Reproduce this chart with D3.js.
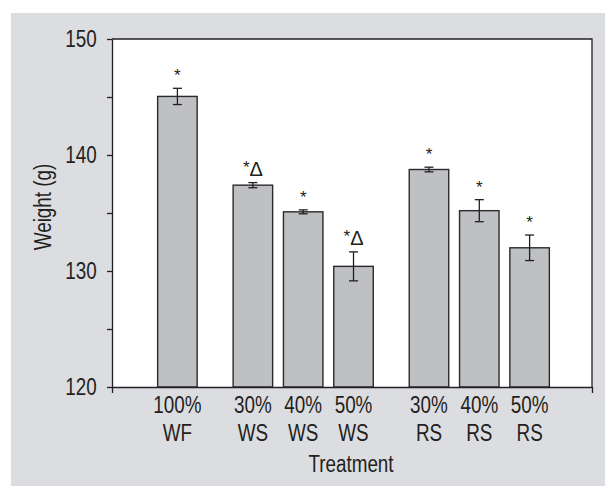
<!DOCTYPE html>
<html>
<head>
<meta charset="utf-8">
<script src="https://cdn.jsdelivr.net/npm/d3@7"></script>
<style>
  body { margin: 0; background: #fff; }
  svg text { font-family: "Liberation Sans", Arial, sans-serif; fill: #231f20; }
</style>
</head>
<body>
<svg id="chart" width="605" height="486"></svg>
<script>
// values
const percents = ['100%', '30%', '40%', '50%', '30%', '40%', '50%'];
const treatments = ['WF', 'WS', 'WS', 'WS', 'RS', 'RS', 'RS'];
const weights = [145.05, 137.4, 135.1, 130.4, 138.75, 135.2, 132.0];
const errors = [0.7, 0.22, 0.17, 1.25, 0.2, 0.95, 1.1];
const marks = ['*', '*\u0394', '*', '*\u0394', '*', '*', '*'];
const yTicks = [120, 125, 130, 135, 140, 145, 150];

const ink = '#231f20';
const narrow = 0.82; // the source font is a condensed sans, squeeze Liberation Sans to match
const svg = d3.select('#chart');

// grey panel behind everything
svg.append('rect')
  .attr('x', 11).attr('y', 13)
  .attr('width', 594).attr('height', 473)
  .attr('fill', '#dcdde0');

const plotL = 112, plotR = 592, plotT = 39, plotB = 387;

svg.append('rect')
  .attr('x', plotL).attr('y', plotT)
  .attr('width', plotR - plotL).attr('height', plotB - plotT)
  .attr('fill', '#fff');

// slot index: one step per bar, half a step extra between treatment groups
let group = 0;
const slots = treatments.map((t, i) => {
  if (i > 0 && t !== treatments[i - 1]) group++;
  return i + group * 0.5;
});

const x = d3.scaleLinear().domain([-1.3, 8.24]).range([plotL, plotR]);
const y = d3.scaleLinear().domain([120, 150]).range([plotB, plotT]);
const barW = x(0.785) - x(0);

const rows = weights.map((w, i) => ({
  w, err: errors[i], mark: marks[i], slot: slots[i], pct: percents[i], tr: treatments[i]
}));

// bars
svg.append('g')
  .selectAll('rect')
  .data(rows)
  .join('rect')
  .attr('x', d => x(d.slot) - barW / 2)
  .attr('y', d => y(d.w))
  .attr('width', barW)
  .attr('height', d => y(120) - y(d.w))
  .attr('fill', '#bec0c3')
  .attr('stroke', '#2a2a2a')
  .attr('stroke-width', 1.4);

// error bars
const eb = svg.append('g')
  .attr('stroke', ink)
  .attr('stroke-width', 1.3);

eb.selectAll('line.v')
  .data(rows)
  .join('line')
  .attr('class', 'v')
  .attr('x1', d => x(d.slot)).attr('x2', d => x(d.slot))
  .attr('y1', d => y(d.w - d.err)).attr('y2', d => y(d.w + d.err));

eb.selectAll('line.hi')
  .data(rows)
  .join('line')
  .attr('class', 'hi')
  .attr('x1', d => x(d.slot) - 4.5).attr('x2', d => x(d.slot) + 4.5)
  .attr('y1', d => y(d.w + d.err)).attr('y2', d => y(d.w + d.err));

eb.selectAll('line.lo')
  .data(rows)
  .join('line')
  .attr('class', 'lo')
  .attr('x1', d => x(d.slot) - 4.5).attr('x2', d => x(d.slot) + 4.5)
  .attr('y1', d => y(d.w - d.err)).attr('y2', d => y(d.w - d.err));

// significance marks
const markText = svg.append('g')
  .selectAll('text')
  .data(rows)
  .join('text')
  .attr('x', d => x(d.slot))
  .attr('y', d => y(d.w + d.err) - 7)
  .attr('text-anchor', 'middle');

markText.append('tspan')
  .attr('font-size', 17)
  .attr('dy', d => d.mark.length > 1 ? -3 : 0)
  .text('*');

markText.filter(d => d.mark.length > 1)
  .append('tspan')
  .attr('font-size', 20)
  .attr('dy', 3)
  .text(d => d.mark.slice(1));

// axes
const yAxis = svg.append('g')
  .attr('transform', `translate(${plotL},0)`)
  .call(d3.axisLeft(y).tickValues(yTicks).tickSize(5).tickSizeOuter(0).tickPadding(13.7)
    .tickFormat(d => d % 10 === 0 ? d : ''));
yAxis.selectAll('path, line').attr('stroke', ink).attr('stroke-width', 1.3);
yAxis.selectAll('text')
  .attr('font-size', 23)
  .attr('fill', ink)
  .attr('font-family', '"Liberation Sans", Arial, sans-serif')
  .attr('transform', `scale(${narrow},1)`);

const xAxis = svg.append('g')
  .attr('transform', `translate(0,${plotB})`)
  .call(d3.axisBottom(x).tickValues([]).tickSizeOuter(6));
xAxis.selectAll('path').attr('stroke', ink).attr('stroke-width', 1.3);

// top and right frame
svg.append('path')
  .attr('d', d3.line()([[plotL, plotT], [plotR, plotT], [plotR, plotB]]))
  .attr('fill', 'none')
  .attr('stroke', ink)
  .attr('stroke-width', 1.3);

// category labels, two lines
const catLabels = svg.append('g')
  .selectAll('text')
  .data(rows)
  .join('text')
  .attr('transform', d => `translate(${x(d.slot)},0) scale(${narrow},1)`)
  .attr('text-anchor', 'middle')
  .attr('font-size', 23);

catLabels.append('tspan')
  .attr('x', 0).attr('y', 413)
  .text(d => d.pct);
catLabels.append('tspan')
  .attr('x', 0).attr('y', 441.5)
  .text(d => d.tr);

svg.append('text')
  .attr('transform', `translate(${(plotL + plotR) / 2 - 1},471.5) scale(${narrow},1)`)
  .attr('text-anchor', 'middle')
  .attr('font-size', 23)
  .text('Treatment');

svg.append('text')
  .attr('transform', `translate(51,207) rotate(-90) scale(${narrow},1)`)
  .attr('text-anchor', 'middle')
  .attr('font-size', 23)
  .text('Weight (g)');
</script>
</body>
</html>
